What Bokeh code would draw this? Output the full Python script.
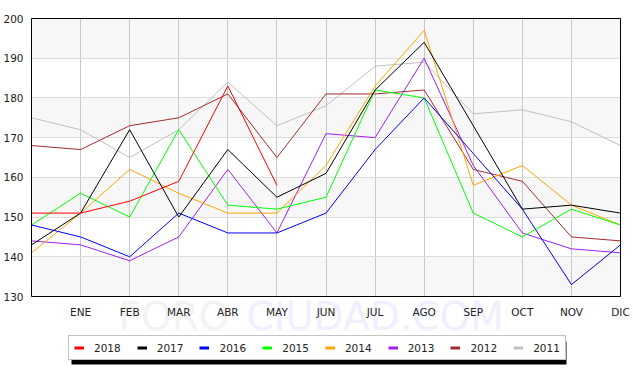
import numpy as np
from bokeh.plotting import figure
from bokeh.models import (FixedTicker, Legend, LegendItem, Label, BoxAnnotation, Range1d,
                          LinearAxis)
from bokeh.embed import file_html
from bokeh.resources import INLINE

months = ["", "ENE", "FEB", "MAR", "ABR", "MAY", "JUN", "JUL", "AGO", "SEP", "OCT", "NOV", "DIC"]
x_pos = list(range(len(months)))

y_2018 = [151, 151, 154, 159, 183, 158]
y_2017 = [143, 151, 172, 150, 167, 155, 161, 182, 194, 173, 152, 153, 151]
y_2016 = [148, 145, 140, 151, 146, 146, 151, 167, 180, 166, 152, 133, 143]
y_2015 = [148, 156, 150, 172, 153, 152, 155, 182, 180, 151, 145, 152, 148]
y_2014 = [141, 151, 162, 156, 151, 151, 163, 183, 197, 158, 163, 153, 148]
y_2013 = [144, 143, 139, 145, 162, 146, 171, 170, 190, 163, 146, 142, 141]
y_2012 = [168, 167, 173, 175, 181, 165, 181, 181, 182, 162, 159, 145, 144]
y_2011 = [175, 172, 165, 172, 184, 173, 178, 188, 189, 176, 177, 174, 168]

years = ["2018", "2017", "2016", "2015", "2014", "2013", "2012", "2011"]
series = [y_2018, y_2017, y_2016, y_2015, y_2014, y_2013, y_2012, y_2011]
colors = ["#ff0000", "#000000", "#0000ff", "#00ff00", "#ffa500", "#a020f0", "#a52a2a", "#c0c0c0"]

y_ticks = [130, 140, 150, 160, 170, 180, 190, 200]
Y_MIN, Y_MAX = y_ticks[0], y_ticks[-1]
X_MIN, X_MAX = x_pos[0], x_pos[-1]

FONT = "DejaVu Sans"

# Plot area is 590 x 278 px.  The drawing frame is extended (1 px left/top, 13 px right,
# 80 px below) so legend, its shadow, the watermark and the last tick label are not clipped.
PLOT_W, PLOT_H = 590, 278
ux = (X_MAX - X_MIN) / PLOT_W
uy = (Y_MAX - Y_MIN) / PLOT_H
FL, FR, FT, FB = 29, 633, 17, 376

p = figure(width=633, height=376, output_backend="svg", toolbar_location=None,
           x_range=Range1d(X_MIN - 1 * ux, X_MAX + 13 * ux),
           y_range=Range1d(Y_MIN - 80 * uy, Y_MAX + 1 * uy),
           x_axis_location=None,
           min_border_left=FL, min_border_right=0, min_border_top=FT, min_border_bottom=0)
p.background_fill_color = "white"
p.border_fill_color = "white"
p.outline_line_color = None

# alternate background bands
for i in range(0, len(y_ticks) - 1, 2):
    p.add_layout(BoxAnnotation(left=X_MIN, right=X_MAX, bottom=y_ticks[i], top=y_ticks[i + 1],
                               fill_color="#f7f7f7", fill_alpha=1.0, line_color=None,
                               level="image"))

# x axis fixed at the bottom of the value range
xaxis = LinearAxis(fixed_location=Y_MIN, ticker=FixedTicker(ticks=x_pos),
                   major_label_overrides={i: m for i, m in zip(x_pos, months)})
p.add_layout(xaxis, "below")
p.yaxis.ticker = FixedTicker(ticks=y_ticks)
for ax in (xaxis, p.yaxis[0]):
    ax.axis_line_color = None
    ax.major_tick_line_color = None
    ax.minor_tick_line_color = None
    ax.major_tick_out = 0
    ax.major_tick_in = 0
    ax.major_label_text_font = FONT
    ax.major_label_text_font_size = "10.5px"
    ax.major_label_text_color = "#222222"
xaxis.major_label_standoff = 9
p.yaxis.major_label_standoff = 7

# grid
p.xgrid.ticker = FixedTicker(ticks=x_pos)
p.xgrid.grid_line_color = "#c8c8c8"
p.ygrid.ticker = FixedTicker(ticks=y_ticks)
p.ygrid.grid_line_color = "#dddddd"

# white covers outside the value range (hide grid lines there)
for kw in (dict(top=Y_MIN), dict(bottom=Y_MAX), dict(right=X_MIN), dict(left=X_MAX)):
    p.add_layout(BoxAnnotation(fill_color="white", fill_alpha=1.0, line_color=None,
                               level="underlay", **kw))

# watermark
wm1 = Label(x=117 - FL, y=FB - 316, x_units="screen", y_units="screen", text="FORO",
            text_font=FONT, text_font_size="39px", text_color="#f3f3f3",
            text_baseline="alphabetic", level="underlay")
wm2 = Label(x=245 - FL, y=FB - 316, x_units="screen", y_units="screen", text="CIUDAD.COM",
            text_font=FONT, text_font_size="39px", text_color="#efefff",
            text_baseline="alphabetic", level="underlay")
p.add_layout(wm1)
p.add_layout(wm2)

# data lines (drawn oldest first)
for yr, ys, c in reversed(list(zip(years, series, colors))):
    p.line(x_pos[:len(ys)], ys, line_color=c, line_width=1)

# frame border around the value range
p.add_layout(BoxAnnotation(left=X_MIN, right=X_MAX, bottom=Y_MIN, top=Y_MAX,
                           fill_color=None, fill_alpha=0, line_color="black",
                           line_alpha=1.0, line_width=1, level="annotation"))

# legend proxies (thicker strokes, nothing drawn in the plot)
items = []
for yr, c in zip(years, colors):
    r = p.line(np.array([np.nan, np.nan]), np.array([np.nan, np.nan]), line_color=c, line_width=3)
    items.append(LegendItem(label=yr, renderers=[r]))

# legend shadow
p.add_layout(BoxAnnotation(left=70 - FL, right=565 - FL, bottom=FB - 364, top=FB - 341,
                           left_units="screen", right_units="screen",
                           bottom_units="screen", top_units="screen",
                           fill_color="black", fill_alpha=1.0, line_color=None))

legend = Legend(items=items, orientation="horizontal", location=(67 - FL, FB - 360),
                glyph_width=10, glyph_height=13, label_height=13, label_standoff=10,
                spacing=16, padding=5, margin=0,
                label_text_font=FONT, label_text_font_size="10.5px", label_text_color="#222222",
                border_line_color="#888888", border_line_width=1,
                background_fill_color="white", background_fill_alpha=1.0)
p.add_layout(legend)

open("out.html", "w").write(file_html(p, INLINE))
